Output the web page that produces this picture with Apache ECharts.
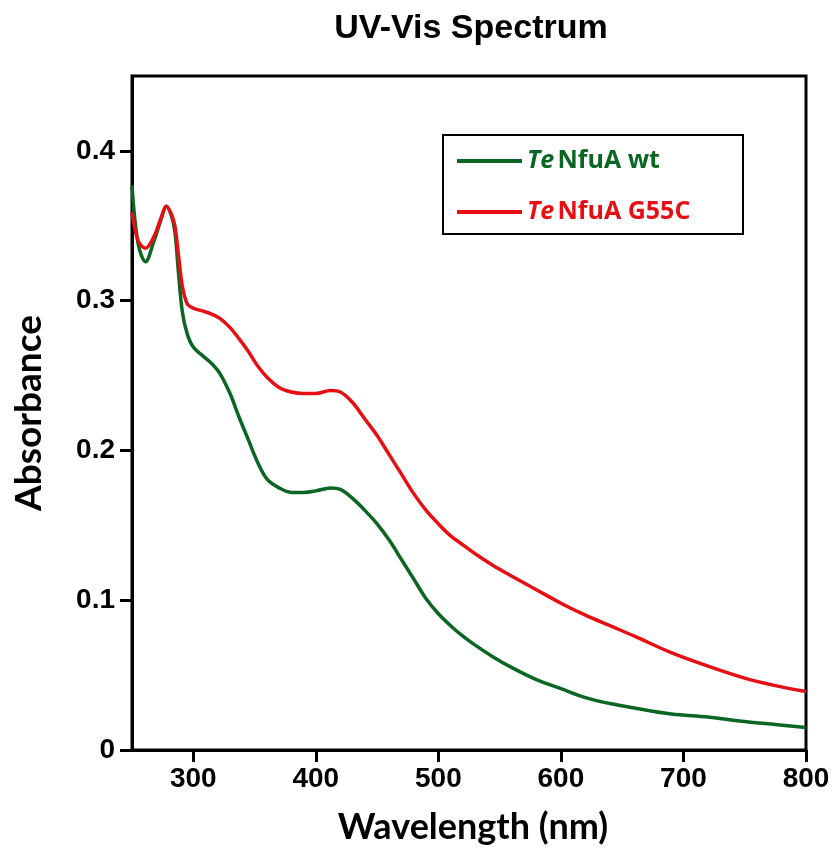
<!DOCTYPE html>
<html>
<head>
<meta charset="utf-8">
<script src="https://cdn.jsdelivr.net/npm/echarts@6/dist/echarts.min.js"></script>
<style>
html,body{margin:0;padding:0;background:#fff;}
#chart{width:834px;height:850px;}
</style>
</head>
<body>
<div id="chart"></div>
<script>
const wavelengths = [250,255,261,268,274,278,282,285,288,291,295,300,308,315,322,330,337,345,352,360,370,380,390,400,412,420,430,440,450,460,470,480,490,500,510,520,530,545,560,580,600,620,640,660,690,720,750,775,800];
const wtValues = [0.377,0.338,0.326,0.340,0.355,0.363,0.357,0.346,0.318,0.293,0.278,0.269,0.263,0.258,0.251,0.238,0.223,0.207,0.193,0.181,0.175,0.172,0.172,0.173,0.175,0.174,0.168,0.160,0.151,0.140,0.127,0.114,0.101,0.091,0.083,0.076,0.070,0.062,0.055,0.047,0.041,0.035,0.031,0.028,0.024,0.022,0.019,0.017,0.015];
const g55cValues = [0.359,0.340,0.335,0.343,0.356,0.363,0.358,0.350,0.330,0.310,0.298,0.295,0.293,0.291,0.288,0.282,0.275,0.266,0.257,0.249,0.242,0.239,0.238,0.238,0.240,0.239,0.232,0.221,0.210,0.197,0.184,0.171,0.160,0.151,0.143,0.137,0.131,0.123,0.116,0.107,0.098,0.090,0.083,0.076,0.065,0.056,0.048,0.043,0.039];
const xTicks = [300,400,500,600,700,800];
const yTicks = [0,0.1,0.2,0.3,0.4];
const seriesNames = ['Te NfuA wt','Te NfuA G55C'];

const GREEN = '#0b6623';
const RED = '#e60f14';

const chart = echarts.init(document.getElementById('chart'));
chart.setOption({
  backgroundColor: '#fff',
  animation: false,
  title: {
    text: 'UV-Vis Spectrum',
    left: 471,
    top: 12,
    padding: 0,
    textAlign: 'center',
    textStyle: {fontFamily: 'Liberation Sans', fontWeight: 'bold', fontSize: 34, color: '#000'}
  },
  grid: {left: 132, right: 28, top: 76, bottom: 97, show: true, borderColor: '#000', borderWidth: 3, containLabel: false},
  legend: {
    orient: 'vertical',
    left: 457,
    top: 147,
    padding: 0,
    itemWidth: 65,
    itemHeight: 4,
    itemGap: 23,
    icon: 'rect',
    data: seriesNames,
    formatter: function (n) {
      if (n === seriesNames[0]) return '{gi|Te} {gb|NfuA wt}';
      return '{ri|Te} {rb|NfuA G55C}';
    },
    textStyle: {
      lineHeight: 28,
      rich: {
        gi: {fontFamily: 'Open Sans', fontStyle: 'italic', fontWeight: 'bold', fontSize: 25, color: GREEN},
        gb: {fontFamily: 'Open Sans', fontWeight: 'bold', fontSize: 25, color: GREEN},
        ri: {fontFamily: 'Open Sans', fontStyle: 'italic', fontWeight: 'bold', fontSize: 25, color: RED},
        rb: {fontFamily: 'Open Sans', fontWeight: 'bold', fontSize: 25, color: RED}
      }
    }
  },
  graphic: [{
    type: 'rect',
    shape: {x: 443, y: 135, width: 300, height: 99},
    style: {fill: 'none', stroke: '#000', lineWidth: 2},
    silent: true
  }],
  xAxis: {
    type: 'value',
    min: 250,
    max: 800,
    name: 'Wavelength (nm)',
    nameLocation: 'middle',
    nameGap: 59,
    nameTextStyle: {fontFamily: 'Lato', fontWeight: 'bold', fontSize: 36, color: '#000', padding: [0, 0, 0, 8]},
    splitLine: {show: false},
    axisLine: {show: true, lineStyle: {color: '#000', width: 3}},
    axisTick: {show: true, length: 12, lineStyle: {color: '#000', width: 3}, customValues: xTicks},
    axisLabel: {customValues: xTicks, margin: 15, fontFamily: 'Liberation Sans', fontWeight: 'bold', fontSize: 28, color: '#000'}
  },
  yAxis: {
    type: 'value',
    min: 0,
    max: 0.45,
    name: 'Absorbance',
    nameLocation: 'middle',
    nameGap: 84,
    nameRotate: 90,
    nameTextStyle: {fontFamily: 'Lato', fontWeight: 'bold', fontSize: 37, color: '#000'},
    splitLine: {show: false},
    axisLine: {show: true, lineStyle: {color: '#000', width: 3}},
    axisTick: {show: true, length: 12, lineStyle: {color: '#000', width: 3}, customValues: yTicks},
    axisLabel: {
      customValues: yTicks, margin: 17, fontFamily: 'Liberation Sans', fontWeight: 'bold', fontSize: 28, color: '#000',
      formatter: function (v) { return v === 0 ? '0' : v.toFixed(1); }
    }
  },
  series: [
    {
      name: seriesNames[0], type: 'line', symbol: 'none', smooth: 0.35,
      data: wavelengths.map((w, i) => [w, wtValues[i]]),
      lineStyle: {color: GREEN, width: 3.5}, itemStyle: {color: GREEN}
    },
    {
      name: seriesNames[1], type: 'line', symbol: 'none', smooth: 0.35,
      data: wavelengths.map((w, i) => [w, g55cValues[i]]),
      lineStyle: {color: RED, width: 3.5}, itemStyle: {color: RED}
    }
  ]
});
</script>
</body>
</html>
